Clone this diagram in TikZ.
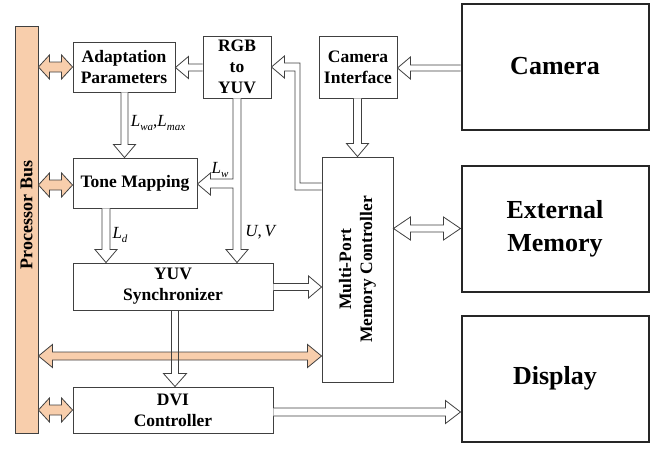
\documentclass[tikz,border=0pt]{standalone}
\usepackage{fontspec}
\setmainfont{Liberation Serif}
\usepackage{graphicx}
\usetikzlibrary{calc}
\definecolor{linec}{RGB}{64,64,64}
\definecolor{peach}{RGB}{248,206,172}
% #1 style, #2 tail anchor, #3 tip anchor, #4 y or x (px), #5 shaft half, #6 head half, #7 head length
\newcommand\ArrL[7]{\draw[#1] let \p1=(#2), \p2=(#3) in (\x1,-#4pt+#5pt) -- (\x2+#7pt,-#4pt+#5pt) -- (\x2+#7pt,-#4pt+#6pt) -- (\x2,-#4pt) -- (\x2+#7pt,-#4pt-#6pt) -- (\x2+#7pt,-#4pt-#5pt) -- (\x1,-#4pt-#5pt);}
\newcommand\ArrR[7]{\draw[#1] let \p1=(#2), \p2=(#3) in (\x1,-#4pt+#5pt) -- (\x2-#7pt,-#4pt+#5pt) -- (\x2-#7pt,-#4pt+#6pt) -- (\x2,-#4pt) -- (\x2-#7pt,-#4pt-#6pt) -- (\x2-#7pt,-#4pt-#5pt) -- (\x1,-#4pt-#5pt);}
\newcommand\ArrD[7]{\draw[#1] let \p1=(#2), \p2=(#3) in (#4pt-#5pt,\y1) -- (#4pt-#5pt,\y2+#7pt) -- (#4pt-#6pt,\y2+#7pt) -- (#4pt,\y2) -- (#4pt+#6pt,\y2+#7pt) -- (#4pt+#5pt,\y2+#7pt) -- (#4pt+#5pt,\y1);}
\newcommand\ArrLR[7]{\draw[#1] let \p1=(#2), \p2=(#3) in (\x1,-#4pt) -- (\x1+#7pt,-#4pt+#6pt) -- (\x1+#7pt,-#4pt+#5pt) -- (\x2-#7pt,-#4pt+#5pt) -- (\x2-#7pt,-#4pt+#6pt) -- (\x2,-#4pt) -- (\x2-#7pt,-#4pt-#6pt) -- (\x2-#7pt,-#4pt-#5pt) -- (\x1+#7pt,-#4pt-#5pt) -- (\x1+#7pt,-#4pt-#6pt) -- cycle;}
\newcommand\Lsub[1]{\textit{L}\raisebox{-4pt}{\fontsize{11}{11}\selectfont\itshape #1}}
\begin{document}
\begin{tikzpicture}[x=1pt,y=-1pt,
  box/.style={draw=linec, line width=0.9pt, fill=white, inner sep=0pt, align=center,
    font=\fontsize{17.5}{21}\selectfont\bfseries},
  bigbox/.style={draw=black!85, line width=2pt, fill=white, inner sep=0pt, align=center,
    minimum width=187, minimum height=126, font=\fontsize{26}{33}\selectfont\bfseries},
  hollow/.style={draw=linec, line width=0.8pt, fill=white, line join=miter},
  hollowline/.style={draw=linec, line width=0.8pt, line join=miter},
  orangearr/.style={draw=linec, line width=0.8pt, fill=peach, line join=miter},
  lbl/.style={inner sep=0pt, font=\fontsize{17}{17}\selectfont}]
\useasboundingbox (0,0) rectangle (667,450);

% processor bus
\node[draw=linec, line width=0.9pt, fill=peach, minimum width=23, minimum height=407, inner sep=0pt] (bus) at (26.5,229.5) {};
\node[rotate=90, inner sep=0pt, font=\fontsize{18}{18}\selectfont\bfseries] (buslbl) at (26.5,215) {Processor Bus};

% blocks
\node[box, minimum width=102, minimum height=50] (adapt) at (124,67) {Adaptation\\Parameters};
\node[box, minimum width=68, minimum height=62] (rgb) at (237,67) {RGB\\to\\YUV};
\node[box, minimum width=78, minimum height=62] (camif) at (358,67) {Camera\\Interface};
\node[box, minimum width=124, minimum height=50] (tone) at (135,183) {Tone Mapping};
\node[box, minimum width=200, minimum height=47] (sync) at (173,286.5) {YUV\\Synchronizer};
\node[box, minimum width=200, minimum height=46] (dvi) at (173,410) {DVI\\Controller};
\node[box, minimum width=71, minimum height=225] (mpmc) at (357.5,269.5)
  {\rotatebox{90}{\begin{tabular}{@{}c@{}}Multi-Port\\Memory Controller\end{tabular}}};

\node[bigbox] (camera) at (555,66.5) {Camera};
\node[bigbox] (extmem) at (555,229) {External\\Memory};
\node[bigbox] (display) at (555,378.5) {Display};

% bus connections
\ArrLR{orangearr}{bus.east}{adapt.west}{67}{5}{12}{11}
\ArrLR{orangearr}{bus.east}{tone.west}{185}{5}{12}{11}
\ArrLR{orangearr}{bus.east}{dvi.west}{410}{5}{12}{11}
\ArrLR{orangearr}{bus.east}{mpmc.west}{356}{4}{11.5}{14}

% data path arrows
\ArrL{hollow}{rgb.west}{adapt.east}{67.5}{3.5}{11}{13}
\ArrL{hollow}{camera.west}{camif.east}{68}{3}{11}{13}
\ArrD{hollow}{camif.south}{mpmc.north}{357.5}{4}{11}{13}
\ArrD{hollow}{adapt.south}{tone.north}{124.5}{3.5}{11}{13}
\ArrD{hollow}{tone.south}{sync.north}{106}{4}{11}{13}
\ArrR{hollow}{sync.east}{mpmc.west}{287}{3.5}{11}{13}
\ArrLR{hollow}{mpmc.east}{extmem.west}{228.5}{3.5}{11.5}{17}
\ArrR{hollow}{dvi.east}{display.west}{412}{4}{11.5}{15}
\ArrD{hollowline}{sync.south}{dvi.north}{175}{3.5}{11.5}{13}

% memory controller -> RGB to YUV (elbow)
\draw[hollow] let \p1=(mpmc.west), \p2=(rgb.east) in
  (\x1,-183pt) -- (300pt,-183pt) -- (300pt,-63pt) -- (\x2+13pt,-63pt) -- (\x2+13pt,-56pt)
  -- (\x2,-67pt) -- (\x2+13pt,-78pt) -- (\x2+13pt,-71pt) -- (295pt,-71pt) -- (295pt,-190pt) -- (\x1,-190pt);

% RGB to YUV -> Tone Mapping (L_w) and -> YUV Synchronizer (U,V)
\draw[hollow] let \p1=(rgb.south), \p2=(tone.east), \p3=(sync.north) in
  (233pt,\y1) -- (233pt,-179pt) -- (\x2+13pt,-179pt) -- (\x2+13pt,-173pt) -- (\x2,-184pt)
  -- (\x2+13pt,-195pt) -- (\x2+13pt,-188pt) -- (233pt,-188pt) -- (233pt,\y3+13pt)
  -- (226pt,\y3+13pt) -- (237pt,\y3) -- (248pt,\y3+13pt) -- (241pt,\y3+13pt) -- (241pt,\y1);

% labels
\node[lbl] (lwa) at (158,123) {\Lsub{wa},\Lsub{max}};
\node[lbl] (lw) at (220,170) {\Lsub{w}};
\node[lbl] (ld) at (120,235) {\Lsub{d}};
\node[lbl] (uv) at (261,232) {\textit{U},\,\textit{V}};
\end{tikzpicture}
\end{document}
